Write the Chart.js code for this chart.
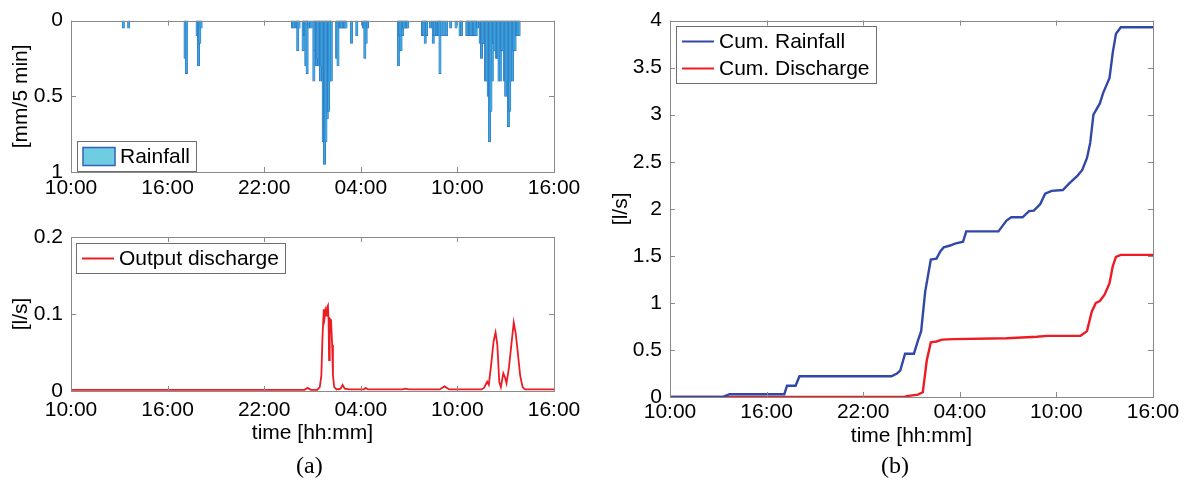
<!DOCTYPE html>
<html>
<head>
<meta charset="utf-8">
<script src="https://cdn.jsdelivr.net/npm/chart.js@4.4.1/dist/chart.umd.min.js"></script>
<style>
body { margin: 0; background: #fff; width: 1189px; height: 491px; position: relative; overflow: hidden; }
canvas { position: absolute; }
.cap { position: absolute; font-family: "Liberation Serif", "Times New Roman", serif; font-size: 24px; color: #000; }
</style>
</head>
<body>
<canvas id="rain" width="600" height="205" style="left:0;top:0"></canvas>
<canvas id="flow" width="600" height="250" style="left:0;top:205px"></canvas>
<canvas id="cum" width="589" height="455" style="left:600px;top:0"></canvas>
<div class="cap" style="left:296px;top:452px">(a)</div>
<div class="cap" style="left:881px;top:452px">(b)</div>
<script>
// x axis: hours since 10:00 of day one
const tickLabels = ['10:00', '16:00', '22:00', '04:00', '10:00', '16:00'];

// rainfall per 5 min interval (minutes since 10:00, mm)
const rainMinute = [195, 215, 425, 430, 470, 475, 480, 485,
  825, 830, 840, 845, 850, 865, 870, 875, 880, 885, 895, 905, 910, 915, 920, 925, 930, 935, 940, 945, 950, 955, 960, 965, 970,
  990, 995, 1000, 1005, 1010, 1015, 1020, 1025, 1045, 1065, 1090, 1095, 1100, 1105,
  1220, 1225, 1230, 1235, 1240, 1245, 1250, 1255,
  1310, 1315, 1320, 1325, 1340, 1350, 1355, 1365, 1370, 1375, 1380, 1390, 1400, 1415, 1435,
  1450, 1455, 1475, 1480, 1485, 1490, 1495, 1500, 1505, 1510, 1515, 1525, 1530, 1535, 1540, 1545, 1550, 1555,
  1560, 1565, 1570, 1575, 1580, 1585, 1590, 1595, 1600, 1605, 1610, 1615, 1620, 1625, 1630, 1635, 1640, 1645,
  1650, 1655, 1660, 1665, 1670];
const rainMm = [0.05, 0.05, 0.25, 0.35, 0.10, 0.30, 0.15, 0.05,
  0.05, 0.05, 0.05, 0.20, 0.05, 0.20, 0.10, 0.30, 0.35, 0.05, 0.05, 0.40, 0.20, 0.30, 0.25, 0.30, 0.40, 0.30, 0.80, 0.95, 0.80, 0.65, 0.60, 0.40, 0.40,
  0.25, 0.30, 0.05, 0.05, 0.05, 0.05, 0.05, 0.05, 0.15, 0.10, 0.05, 0.25, 0.15, 0.05,
  0.30, 0.10, 0.20, 0.10, 0.05, 0.05, 0.05, 0.05,
  0.10, 0.10, 0.15, 0.10, 0.05, 0.15, 0.10, 0.10, 0.10, 0.35, 0.10, 0.10, 0.10, 0.05, 0.05,
  0.10, 0.10, 0.10, 0.10, 0.10, 0.10, 0.10, 0.10, 0.10, 0.10, 0.05, 0.15, 0.25, 0.15, 0.15, 0.40, 0.40, 0.50,
  0.80, 0.60, 0.40, 0.15, 0.20, 0.25, 0.25, 0.40, 0.40, 0.20, 0.20, 0.40, 0.50, 0.40, 0.70, 0.60, 0.40, 0.40,
  0.20, 0.20, 0.10, 0.10, 0.10];

// output discharge (hours since 10:00, l/s)
const flowHour = [0, 14.5, 14.7, 14.9, 15.3, 15.45, 15.55, 15.62, 15.7, 15.75, 15.8, 15.85, 15.9, 15.96, 16.0, 16.03,
  16.07, 16.15, 16.22, 16.27, 16.35, 16.5, 16.75, 16.87, 17.0, 17.3, 18.2, 18.3, 18.45, 20.6, 20.75, 21.0,
  22.9, 23.2, 23.5, 25.5, 25.65, 25.85, 25.95, 26.1, 26.25, 26.37, 26.48, 26.6, 26.7, 26.85, 26.95, 27.05,
  27.2, 27.35, 27.5, 27.62, 27.75, 27.9, 28.05, 28.2, 30];
const flowLs = [0.0015, 0.0015, 0.004, 0.0015, 0.0015, 0.005, 0.02, 0.07, 0.106, 0.095, 0.104, 0.098, 0.108, 0.111, 0.09, 0.04,
  0.094, 0.092, 0.06, 0.02, 0.005, 0.002, 0.003, 0.008, 0.003, 0.002, 0.002, 0.004, 0.002, 0.002, 0.003, 0.002,
  0.002, 0.006, 0.002, 0.002, 0.004, 0.012, 0.008, 0.035, 0.065, 0.076, 0.06, 0.012, 0.005, 0.023, 0.018, 0.01,
  0.03, 0.06, 0.089, 0.075, 0.05, 0.02, 0.005, 0.002, 0.002];

// cumulative curves (hours since 10:00)
const cumRainHour = [0, 3.26, 3.7, 7.1, 7.27, 7.8, 8.04, 13.75, 14.1, 14.3, 14.6, 15.15, 15.4, 15.6, 15.85, 16.2, 16.55,
  16.8, 17.0, 17.4, 17.7, 18.2, 18.4, 20.4, 20.9, 21.2, 21.9, 22.3, 22.6, 23.0, 23.3, 23.7, 24.4, 24.8, 25.3,
  25.6, 25.9, 26.1, 26.3, 26.7, 26.9, 27.3, 27.5, 27.7, 28.0, 30];
const cumRain = [0, 0, 0.03, 0.03, 0.12, 0.12, 0.22, 0.22, 0.25, 0.28, 0.46, 0.46, 0.6, 0.7, 1.12, 1.46, 1.47,
  1.55, 1.59, 1.61, 1.63, 1.65, 1.76, 1.76, 1.875, 1.91, 1.91, 1.975, 1.98, 2.05, 2.16, 2.19, 2.2, 2.27, 2.35,
  2.41, 2.54, 2.7, 3.0, 3.12, 3.23, 3.39, 3.66, 3.86, 3.93, 3.93];
const cumFlowHour = [0, 14.57, 14.7, 15.4, 15.7, 15.95, 16.2, 16.55, 16.9, 17.6, 20.9, 22.8, 23.4, 25.5, 25.9,
  26.2, 26.45, 26.7, 27.0, 27.3, 27.5, 27.7, 28.0, 30];
const cumFlow = [0, 0, 0.01, 0.025, 0.05, 0.39, 0.58, 0.59, 0.61, 0.615, 0.625, 0.64, 0.65, 0.65, 0.7,
  0.91, 1.0, 1.02, 1.09, 1.21, 1.39, 1.49, 1.51, 1.51];

const pts = (xs, ys) => xs.map((x, i) => ({ x: x, y: ys[i] }));
const FONT = '"Liberation Sans", Arial, sans-serif';
Chart.defaults.font.family = FONT;
Chart.defaults.font.size = 21;
Chart.defaults.color = '#000';

// matlab style box with inward ticks
const matlabBox = {
  id: 'matlabBox',
  afterDatasetsDraw(chart) {
    const { ctx, chartArea: a, scales } = chart;
    ctx.save();
    ctx.strokeStyle = '#8a8a8a';
    ctx.lineWidth = 1;
    ctx.strokeRect(Math.round(a.left) + 0.5, Math.round(a.top) + 0.5, Math.round(a.right - a.left), Math.round(a.bottom - a.top));
    ctx.beginPath();
    scales.x.ticks.forEach(t => {
      const px = Math.round(scales.x.getPixelForValue(t.value)) + 0.5;
      ctx.moveTo(px, a.bottom); ctx.lineTo(px, a.bottom - 5);
      ctx.moveTo(px, a.top); ctx.lineTo(px, a.top + 5);
    });
    scales.y.ticks.forEach(t => {
      const py = Math.round(scales.y.getPixelForValue(t.value)) + 0.5;
      ctx.moveTo(a.left, py); ctx.lineTo(a.left + 5, py);
      ctx.moveTo(a.right, py); ctx.lineTo(a.right - 5, py);
    });
    ctx.stroke();
    ctx.restore();
  }
};

// legend drawn inside the axes, with a frame
const boxLegend = {
  id: 'boxLegend',
  afterDraw(chart, args, opts) {
    const { ctx, chartArea: a } = chart;
    const sets = chart.data.datasets;
    ctx.save();
    ctx.font = '21px ' + FONT;
    const rowH = 27, sw = 32, pad = 6;
    const textW = Math.max(...sets.map(d => ctx.measureText(d.label).width));
    const w = Math.round(pad + sw + 5 + textW + pad);
    const h = sets.length * rowH + 3;
    const x = Math.round(a.left + opts.dx);
    const y = Math.round(opts.bottom ? a.bottom - opts.dy - h : a.top + opts.dy);
    ctx.fillStyle = '#fff';
    ctx.fillRect(x, y, w, h);
    ctx.strokeStyle = '#6e6e6e';
    ctx.lineWidth = 1;
    ctx.strokeRect(x + 0.5, y + 0.5, w, h);
    sets.forEach((d, i) => {
      const cy = y + 2 + rowH * i + rowH / 2;
      if (opts.swatch) {
        ctx.fillStyle = opts.swatch;
        ctx.fillRect(x + pad, cy - 9, sw, 18);
        ctx.strokeStyle = d.borderColor;
        ctx.lineWidth = 1.5;
        ctx.strokeRect(x + pad, cy - 9, sw, 18);
      } else {
        ctx.strokeStyle = d.borderColor;
        ctx.lineWidth = 2;
        ctx.beginPath();
        ctx.moveTo(x + pad, cy); ctx.lineTo(x + pad + sw, cy);
        ctx.stroke();
      }
      ctx.fillStyle = '#000';
      ctx.textBaseline = 'middle';
      ctx.fillText(d.label, x + pad + sw + 5, cy + 1);
    });
    ctx.restore();
  }
};

function timeAxis(height, pad, title, titlePad) {
  return {
    type: 'linear', min: 0, max: 30, offset: false,
    grid: { display: false, drawTicks: false, offset: false },
    border: { display: false },
    ticks: { stepSize: 6, padding: pad, maxRotation: 0, autoSkip: false, callback: v => tickLabels[v / 6] },
    title: { display: !!title, text: title, padding: { top: 0, bottom: titlePad } },
    afterFit: s => { s.height = height; }
  };
}

function valueAxis(width, min, max, step, title, reverse) {
  return {
    min: min, max: max, reverse: !!reverse,
    grid: { display: false, drawTicks: false },
    border: { display: false },
    ticks: { stepSize: step, padding: 8, callback: v => String(Number(v.toFixed(2))) },
    title: { display: true, text: title, padding: { top: 9, bottom: 0 } },
    afterFit: s => { s.width = width; }
  };
}

const common = {
  responsive: false,
  animation: false,
  events: [],
  plugins: { legend: { display: false }, tooltip: { enabled: false } }
};

new Chart(document.getElementById('rain'), {
  type: 'bar',
  data: {
    datasets: [{
      label: 'Rainfall',
      data: pts(rainMinute.map(m => m / 60), rainMm),
      backgroundColor: '#38aadf',
      borderColor: '#3562b8',
      borderWidth: 0.6,
      barThickness: 2.4
    }]
  },
  options: Object.assign({}, common, {
    layout: { padding: { top: 18, right: 46, left: 0, bottom: 0 } },
    plugins: Object.assign({}, common.plugins, { boxLegend: { dx: 6, dy: 1, bottom: true, swatch: '#6fcde2' } }),
    scales: {
      x: timeAxis(33, 4),
      y: valueAxis(71, 0, 1, 0.5, '[mm/5 min]', true)
    }
  }),
  plugins: [matlabBox, boxLegend]
});

new Chart(document.getElementById('flow'), {
  type: 'line',
  data: {
    datasets: [{
      label: 'Output discharge',
      data: pts(flowHour, flowLs),
      borderColor: '#ec1c24',
      borderWidth: 1.8,
      pointRadius: 0,
      tension: 0
    }]
  },
  options: Object.assign({}, common, {
    layout: { padding: { top: 32, right: 46, left: 0, bottom: 0 } },
    plugins: Object.assign({}, common.plugins, { boxLegend: { dx: 5, dy: 6 } }),
    scales: {
      x: timeAxis(64, 7, 'time [hh:mm]', 9),
      y: valueAxis(71, 0, 0.2, 0.1, '[l/s]')
    }
  }),
  plugins: [matlabBox, boxLegend]
});

new Chart(document.getElementById('cum'), {
  type: 'line',
  data: {
    datasets: [{
      label: 'Cum. Rainfall',
      data: pts(cumRainHour, cumRain),
      borderColor: '#3148a8',
      borderWidth: 2.4,
      pointRadius: 0,
      tension: 0
    }, {
      label: 'Cum. Discharge',
      data: pts(cumFlowHour, cumFlow),
      borderColor: '#ec1c24',
      borderWidth: 2.4,
      pointRadius: 0,
      tension: 0
    }]
  },
  options: Object.assign({}, common, {
    layout: { padding: { top: 18, right: 36, left: 0, bottom: 0 } },
    plugins: Object.assign({}, common.plugins, { boxLegend: { dx: 6, dy: 5 } }),
    scales: {
      x: timeAxis(58, 3, 'time [hh:mm]', 6),
      y: valueAxis(70, 0, 4, 0.5, '[l/s]')
    }
  }),
  plugins: [matlabBox, boxLegend]
});
</script>
</body>
</html>
